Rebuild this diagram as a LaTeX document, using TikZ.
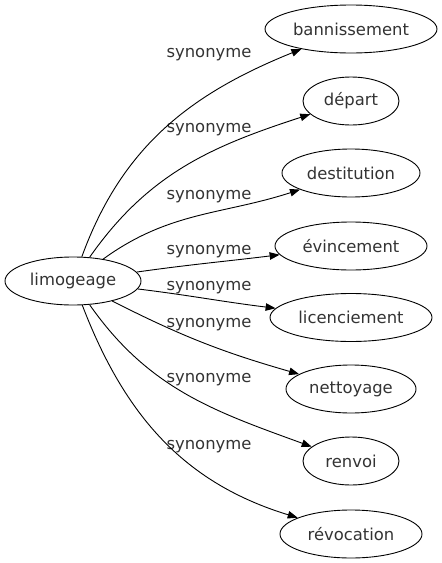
\documentclass[tikz,border=0pt]{standalone}
\usepackage{fontspec}
\setmainfont{DejaVu Sans}
\usetikzlibrary{shapes.geometric,arrows.meta}
\definecolor{txt}{HTML}{333333}
\begin{document}
\begin{tikzpicture}[x=1pt,y=-1pt,
  term/.style={draw=black,line width=0.9pt,ellipse,inner sep=0pt,minimum height=48pt,text=txt,font=\fontsize{16.4}{18}\selectfont},
  lbl/.style={text=txt,font=\fontsize{16.4}{18}\selectfont,inner sep=0pt},
  edge/.style={draw=black,line width=0.9pt,-{Triangle[length=10pt,width=7.5pt]}}]
\useasboundingbox (0,0) rectangle (442,563);
\node[term,minimum width=136pt] (src) at (73,281) {limogeage};
\node[term,minimum width=172pt] (t1) at (351,29) {bannissement};
\node[term,minimum width=96pt] (t2) at (351,101) {départ};
\node[term,minimum width=138pt] (t3) at (351,173) {destitution};
\node[term,minimum width=152pt] (t4) at (351,246) {évincement};
\node[term,minimum width=162pt] (t5) at (351,317.5) {licenciement};
\node[term,minimum width=130pt] (t6) at (351,389) {nettoyage};
\node[term,minimum width=96pt] (t7) at (351,461) {renvoi};
\node[term,minimum width=142pt] (t8) at (351,534) {révocation};
\node[lbl] (l1) at (209,55) {synonyme};
\node[lbl] (l2) at (209,130) {synonyme};
\node[lbl] (l3) at (209,197) {synonyme};
\node[lbl] (l4) at (209,252) {synonyme};
\node[lbl] (l5) at (209,288) {synonyme};
\node[lbl] (l6) at (209,325) {synonyme};
\node[lbl] (l7) at (209,380) {synonyme};
\node[lbl] (l8) at (209,447) {synonyme};
\draw[edge] (src) to[out=70,in=202] (t1);
\draw[edge] (src) to[out=55,in=198] (t2);
\draw[edge] (src) to[out=36,in=198] (t3);
\draw[edge] (src) to[out=8,in=187] (t4);
\draw[edge] (src) to[out=-7,in=173] (t5);
\draw[edge] (src) to[out=-27,in=164] (t6);
\draw[edge] (src) to[out=-55,in=160] (t7);
\draw[edge] (src) to[out=-69,in=163] (t8);
\end{tikzpicture}
\end{document}
